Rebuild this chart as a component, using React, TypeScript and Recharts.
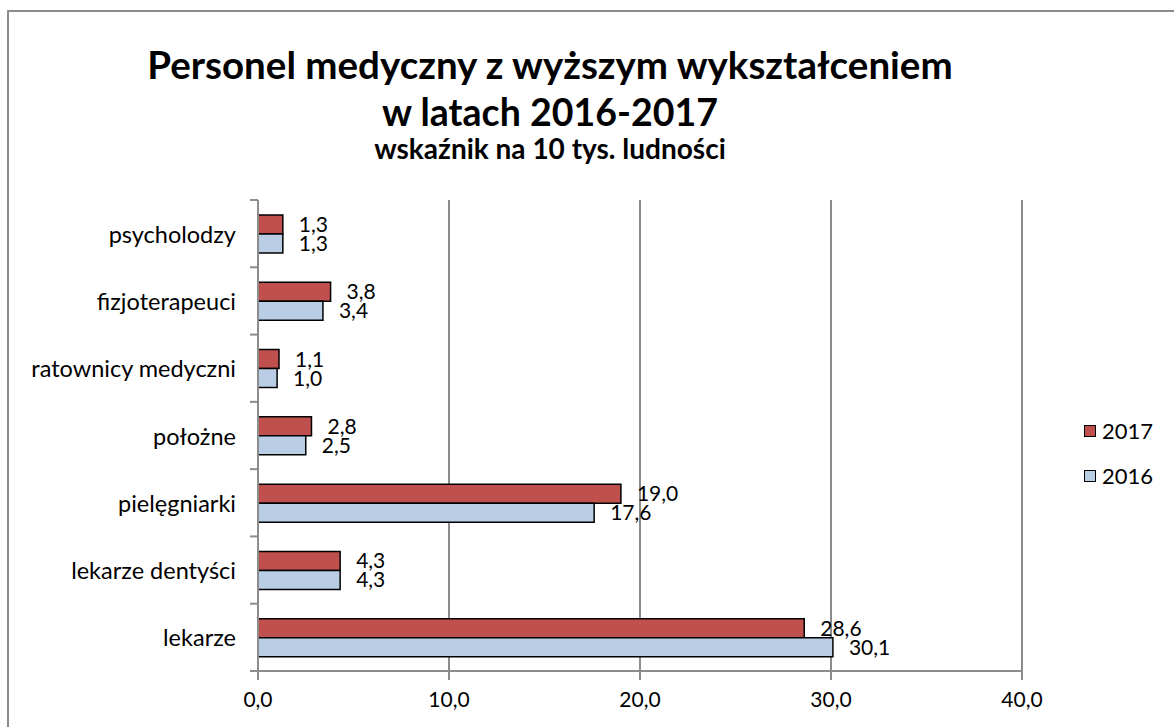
import React from "react";
import {
  BarChart,
  Bar,
  XAxis,
  YAxis,
  CartesianGrid,
  Legend,
  LabelList,
} from "recharts";

const categories = [
  "psycholodzy",
  "fizjoterapeuci",
  "ratownicy medyczni",
  "położne",
  "pielęgniarki",
  "lekarze dentyści",
  "lekarze",
];
const values2017 = [1.3, 3.8, 1.1, 2.8, 19.0, 4.3, 28.6];
const values2016 = [1.3, 3.4, 1.0, 2.5, 17.6, 4.3, 30.1];
const xTicks = [0, 10, 20, 30, 40];
const seriesOrder = ["2017", "2016"];

const data = categories.map((name, i) => ({
  name,
  y2017: values2017[i],
  y2016: values2016[i],
}));

const FONT = "Lato, 'Noto Sans', sans-serif";
const GREY = "#8c8c8c";
const fmt = (v: number) => v.toFixed(1).replace(".", ",");

const MARGIN = { top: 200, right: 152, bottom: 16, left: 8 };
const HEIGHT = 727;
const X_AXIS_H = 40;
const plotH = HEIGHT - MARGIN.top - MARGIN.bottom - X_AXIS_H;
const halfBand = plotH / categories.length / 2;

const CategoryTick = (props: any) => {
  const { x, y, payload, index } = props;
  return (
    <g>
      <text
        x={x - 22}
        y={y}
        textAnchor="end"
        dominantBaseline="central"
        fontSize={23.5}
        fontFamily={FONT}
        fill="#000"
      >
        {payload.value}
      </text>
      <line x1={x - 8} x2={x} y1={y - halfBand} y2={y - halfBand} stroke={GREY} strokeWidth={2} />
      {index === categories.length - 1 && (
        <line x1={x - 8} x2={x} y1={y + halfBand} y2={y + halfBand} stroke={GREY} strokeWidth={2} />
      )}
    </g>
  );
};

const LegendContent = (props: any) => {
  const payload = [...(props.payload || [])].sort(
    (a: any, b: any) => seriesOrder.indexOf(a.value) - seriesOrder.indexOf(b.value)
  );
  return (
    <div style={{ fontFamily: FONT, fontSize: 22 }}>
      {payload.map((p: any) => (
        <div key={p.value} style={{ display: "flex", alignItems: "center", height: 45 }}>
          <span
            style={{
              display: "inline-block",
              width: 10,
              height: 10,
              background: p.color,
              border: "1.5px solid #000",
              marginRight: 6,
            }}
          />
          <span>{p.value}</span>
        </div>
      ))}
    </div>
  );
};

export default function App() {
  return (
    <div style={{ position: "fixed", left: 0, top: 0, width: 1174, height: 727, background: "#fff" }}>
      <div
        style={{
          position: "absolute",
          left: 7,
          top: 10,
          width: 1200,
          height: 760,
          border: `2px solid ${GREY}`,
        }}
      />
      <div
        style={{
          position: "absolute",
          left: 0,
          width: 1100,
          top: 44,
          textAlign: "center",
          fontFamily: FONT,
          fontWeight: 700,
          color: "#000",
        }}
      >
        <div style={{ fontSize: 38.5, lineHeight: "41px" }}>Personel medyczny z wyższym wykształceniem</div>
        <div style={{ fontSize: 37.5, lineHeight: "41px", marginTop: 6 }}>w latach 2016-2017</div>
        <div style={{ fontSize: 28, lineHeight: "32px" }}>wskaźnik na 10 tys. ludności</div>
      </div>
      <div style={{ position: "absolute", left: 0, top: 0 }}>
        <BarChart
          width={1174}
          height={HEIGHT}
          data={data}
          layout="vertical"
          margin={MARGIN}
          barGap={0}
          barSize={19}
        >
          <CartesianGrid horizontal={false} stroke={GREY} strokeWidth={2} />
          <XAxis
            type="number"
            domain={[0, 40]}
            ticks={xTicks}
            tickFormatter={fmt}
            height={X_AXIS_H}
            stroke={GREY}
            strokeWidth={2}
            tickSize={9}
            tickMargin={12}
            tick={{ fill: "#000", fontSize: 21, fontFamily: FONT }}
          />
          <YAxis
            type="category"
            dataKey="name"
            width={250}
            stroke={GREY}
            strokeWidth={2}
            tickLine={false}
            tickSize={0}
            tickMargin={0}
            tick={<CategoryTick />}
            interval={0}
          />
          <Legend
            layout="vertical"
            align="center"
            verticalAlign="middle"
            content={<LegendContent />}
            wrapperStyle={{ position: "absolute", left: 1084, top: 408, width: 90 }}
          />
          <Bar dataKey="y2017" name="2017" fill="#C0504D" stroke="#000" strokeWidth={1.5} isAnimationActive={false}>
            <LabelList
              dataKey="y2017"
              position="right"
              offset={16}
              formatter={(v: any) => fmt(Number(v))}
              style={{ fill: "#000", fontSize: 21, fontFamily: FONT }}
            />
          </Bar>
          <Bar dataKey="y2016" name="2016" fill="#B9CDE5" stroke="#000" strokeWidth={1.5} isAnimationActive={false}>
            <LabelList
              dataKey="y2016"
              position="right"
              offset={16}
              formatter={(v: any) => fmt(Number(v))}
              style={{ fill: "#000", fontSize: 21, fontFamily: FONT }}
            />
          </Bar>
        </BarChart>
      </div>
    </div>
  );
}
